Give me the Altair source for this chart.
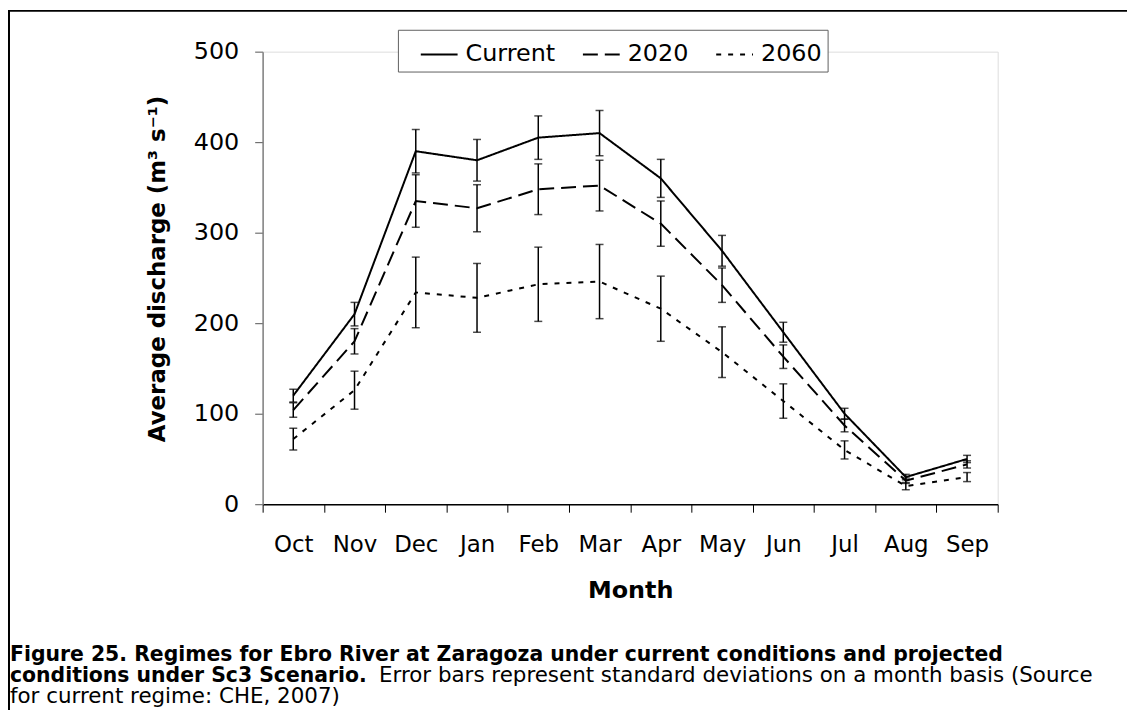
import altair as alt
import pandas as pd

FONT = "DejaVu Sans"

months = ["Oct", "Nov", "Dec", "Jan", "Feb", "Mar", "Apr", "May", "Jun", "Jul", "Aug", "Sep"]
series_names = ["Current", "2020", "2060"]

current = [120, 210, 390, 380, 405, 410, 360, 280, 190, 100, 30, 50]
current_sd = [7, 13, 24, 23, 24, 25, 21, 17, 11, 6, 3, 4]
q2020 = [104, 180, 335, 327, 348, 352, 310, 242, 163, 87, 26, 44]
q2020_sd = [8, 14, 29, 26, 28, 28, 25, 19, 13, 7, 3, 4]
q2060 = [72, 126, 234, 228, 243, 246, 216, 168, 114, 60, 20, 30]
q2060_sd = [12, 21, 39, 38, 41, 41, 36, 28, 19, 10, 4, 5]

y_ticks = [0, 100, 200, 300, 400, 500]

y_title = "Average discharge (m³ s⁻¹)"
x_title = "Month"
caption_1 = "Figure 25. Regimes for Ebro River at Zaragoza under current conditions and projected"
caption_2_bold = "conditions under Sc3 Scenario."
caption_2_regular = "Error bars represent standard deviations on a month basis (Source"
caption_3 = "for current regime: CHE, 2007)"

rows = []
for name, vals, sds in [("Current", current, current_sd),
                        ("2020", q2020, q2020_sd),
                        ("2060", q2060, q2060_sd)]:
    for m, v, s in zip(months, vals, sds):
        rows.append({"month": m, "series": name, "value": v, "sd": s,
                     "lo": v - s, "hi": v + s})
df = pd.DataFrame(rows)
one = pd.DataFrame({"k": [0]})

W, H = 739, 455

x_enc = alt.X("month:N", sort=months, bandPosition=0.5,
              scale=alt.Scale(type="band", domain=months, paddingInner=0, paddingOuter=0),
              title=x_title,
              axis=alt.Axis(tickBand="extent", tickSize=8, tickColor="black", tickWidth=1,
                            domainColor="black", domainWidth=1.5, labelAngle=0,
                            labelFontSize=23, labelFont=FONT, labelColor="black",
                            labelBaseline="alphabetic", labelPadding=40,
                            titleFontSize=24, titleFont=FONT, titleFontWeight="bold",
                            titleColor="black", titleX=W / 2, titleY=94,
                            titleAlign="center", titleBaseline="alphabetic", grid=False))

y_axis = alt.Axis(values=y_ticks, tickSize=8, tickColor="#555555", domainColor="#808080",
                  domainWidth=1.5, labelFontSize=24, labelFont=FONT, labelColor="black",
                  labelPadding=16, titleFontSize=23, titleFont=FONT, titleFontWeight="bold",
                  titleColor="black", titleAngle=270, titleX=-106, titleY=218,
                  titleAlign="center", titleBaseline="middle", grid=False)
y_scale = alt.Scale(domain=[0, 500], nice=False)

base = alt.Chart(df)

lines = base.mark_line(color="black", strokeWidth=2).encode(
    x=x_enc,
    y=alt.Y("value:Q", scale=y_scale, axis=y_axis, title=y_title),
    strokeDash=alt.StrokeDash(
        "series:N",
        scale=alt.Scale(domain=series_names, range=[[1, 0], [15, 7], [5, 7]]),
        legend=alt.Legend(title=None, orient="none", legendX=136, legendY=-22,
                          direction="horizontal", columns=3, symbolSize=1369,
                          symbolStrokeWidth=2, symbolStrokeColor="black",
                          symbolOffset=17,
                          labelFontSize=24, labelFont=FONT, labelColor="black",
                          labelOffset=7, columnPadding=9, padding=5,
                          strokeColor="#606060", fillColor="white", labelLimit=300)),
)

bars = base.mark_rule(color="black", strokeWidth=1.5).encode(
    x=x_enc,
    y=alt.Y("lo:Q", scale=y_scale, axis=y_axis, title=y_title),
    y2="hi:Q",
)
cap_lo = base.mark_tick(color="black", size=8, thickness=1.5).encode(
    x=x_enc, y=alt.Y("lo:Q", scale=y_scale, axis=y_axis, title=y_title))
cap_hi = base.mark_tick(color="black", size=8, thickness=1.5).encode(
    x=x_enc, y=alt.Y("hi:Q", scale=y_scale, axis=y_axis, title=y_title))

frame_top = alt.Chart(one).mark_rule(color="black", strokeWidth=2).encode(
    x=alt.value(-256), x2=alt.value(W + 130), y=alt.value(-41))
frame_left = alt.Chart(one).mark_rule(color="black", strokeWidth=2).encode(
    x=alt.value(-255), y=alt.value(-42), y2=alt.value(H + 207))

CX = -254
CF = 20.5
CR = 21.5
cap1 = alt.Chart(one).mark_text(align="left", baseline="alphabetic", fontSize=CF,
                                fontWeight="bold", font=FONT, color="black").encode(
    x=alt.value(CX), y=alt.value(612.5), text=alt.value(caption_1))
cap2a = alt.Chart(one).mark_text(align="left", baseline="alphabetic", fontSize=CF,
                                 fontWeight="bold", font=FONT, color="black").encode(
    x=alt.value(CX), y=alt.value(633.5), text=alt.value(caption_2_bold))
cap2b = alt.Chart(one).mark_text(align="left", baseline="alphabetic", fontSize=CR,
                                 font=FONT, color="black").encode(
    x=alt.value(CX + 18.1 * CF), y=alt.value(633.5), text=alt.value(caption_2_regular))
cap3 = alt.Chart(one).mark_text(align="left", baseline="alphabetic", fontSize=CR,
                                font=FONT, color="black").encode(
    x=alt.value(CX), y=alt.value(654.5), text=alt.value(caption_3))

chart = alt.layer(
    frame_top, frame_left, bars, cap_lo, cap_hi, lines, cap1, cap2a, cap2b, cap3
).properties(
    width=W, height=H,
    padding={"left": 256, "top": 42, "right": 130, "bottom": 207},
    autosize=alt.AutoSizeParams(type="none"),
    background="white",
).configure_view(stroke=None).configure(font=FONT)

chart.save("out.html", embed_options={"renderer": "svg", "actions": False})
